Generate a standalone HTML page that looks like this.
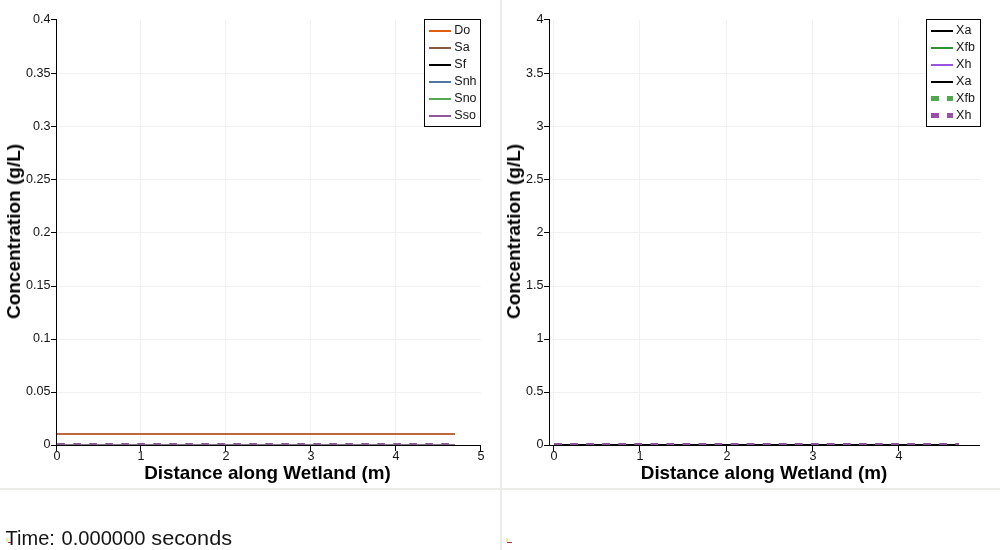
<!DOCTYPE html><html><head><meta charset="utf-8"><title>Wetland plots</title><style>
html,body{margin:0;padding:0;background:#fff;}body{width:1000px;height:550px;overflow:hidden;position:relative;font-family:"Liberation Sans",sans-serif;}
svg{position:absolute;left:0;top:0;display:block}
text{font-family:"Liberation Sans",sans-serif;fill:#141414;}
.t{font-size:13px}.b{font-size:19px;font-weight:bold;fill:#000}.lg{font-size:12.5px}
</style></head><body>
<svg width="1000" height="550" viewBox="0 0 1000 550">
<rect width="1000" height="550" fill="#fff"/>
<g shape-rendering="crispEdges">
<rect x="500" y="0" width="2" height="550" fill="#ebebe8"/>
<rect x="0" y="488" width="1000" height="2" fill="#ebebe8"/>
<rect x="58" y="73" width="423" height="1" fill="#f1f1f1"/>
<rect x="58" y="126" width="423" height="1" fill="#f1f1f1"/>
<rect x="58" y="179" width="423" height="1" fill="#f1f1f1"/>
<rect x="58" y="232" width="423" height="1" fill="#f1f1f1"/>
<rect x="58" y="286" width="423" height="1" fill="#f1f1f1"/>
<rect x="58" y="339" width="423" height="1" fill="#f1f1f1"/>
<rect x="58" y="392" width="423" height="1" fill="#f1f1f1"/>
<rect x="140" y="20" width="1" height="424" fill="#f1f1f1"/>
<rect x="225" y="20" width="1" height="424" fill="#f1f1f1"/>
<rect x="310" y="20" width="1" height="424" fill="#f1f1f1"/>
<rect x="395" y="20" width="1" height="424" fill="#f1f1f1"/>
<rect x="551" y="73" width="430" height="1" fill="#f1f1f1"/>
<rect x="551" y="126" width="430" height="1" fill="#f1f1f1"/>
<rect x="551" y="179" width="430" height="1" fill="#f1f1f1"/>
<rect x="551" y="232" width="430" height="1" fill="#f1f1f1"/>
<rect x="551" y="286" width="430" height="1" fill="#f1f1f1"/>
<rect x="551" y="339" width="430" height="1" fill="#f1f1f1"/>
<rect x="551" y="392" width="430" height="1" fill="#f1f1f1"/>
<rect x="553" y="20" width="1" height="424" fill="#f1f1f1"/>
<rect x="639" y="20" width="1" height="424" fill="#f1f1f1"/>
<rect x="726" y="20" width="1" height="424" fill="#f1f1f1"/>
<rect x="812" y="20" width="1" height="424" fill="#f1f1f1"/>
<rect x="898" y="20" width="1" height="424" fill="#f1f1f1"/>
<rect x="57" y="433" width="398" height="2" fill="#c0673c"/>
<rect x="57" y="444.45" width="398" height="1.55" fill="#240d2c" shape-rendering="auto"/>
<rect x="554" y="444" width="405" height="2" fill="#000"/>
<rect x="56" y="19" width="1" height="427" fill="#000"/>
<rect x="56" y="445" width="425" height="1" fill="#000"/>
<rect x="51" y="19" width="5" height="1" fill="#000"/>
<rect x="51" y="73" width="5" height="1" fill="#000"/>
<rect x="51" y="126" width="5" height="1" fill="#000"/>
<rect x="51" y="179" width="5" height="1" fill="#000"/>
<rect x="51" y="232" width="5" height="1" fill="#000"/>
<rect x="51" y="286" width="5" height="1" fill="#000"/>
<rect x="51" y="339" width="5" height="1" fill="#000"/>
<rect x="51" y="392" width="5" height="1" fill="#000"/>
<rect x="51" y="445" width="5" height="1" fill="#000"/>
<rect x="56" y="445" width="1" height="6" fill="#000"/>
<rect x="140" y="445" width="1" height="6" fill="#000"/>
<rect x="225" y="445" width="1" height="6" fill="#000"/>
<rect x="310" y="445" width="1" height="6" fill="#000"/>
<rect x="395" y="445" width="1" height="6" fill="#000"/>
<rect x="480" y="445" width="1" height="6" fill="#000"/>
<rect x="549" y="19" width="1" height="427" fill="#000"/>
<rect x="549" y="445" width="431" height="1" fill="#000"/>
<rect x="544" y="19" width="5" height="1" fill="#000"/>
<rect x="544" y="73" width="5" height="1" fill="#000"/>
<rect x="544" y="126" width="5" height="1" fill="#000"/>
<rect x="544" y="179" width="5" height="1" fill="#000"/>
<rect x="544" y="232" width="5" height="1" fill="#000"/>
<rect x="544" y="286" width="5" height="1" fill="#000"/>
<rect x="544" y="339" width="5" height="1" fill="#000"/>
<rect x="544" y="392" width="5" height="1" fill="#000"/>
<rect x="544" y="445" width="5" height="1" fill="#000"/>
<rect x="553" y="445" width="1" height="6" fill="#000"/>
<rect x="639" y="445" width="1" height="6" fill="#000"/>
<rect x="726" y="445" width="1" height="6" fill="#000"/>
<rect x="812" y="445" width="1" height="6" fill="#000"/>
<rect x="898" y="445" width="1" height="6" fill="#000"/>
</g>
<g>
<rect x="57.2" y="443" width="7.7" height="2" fill="#875a94"/>
<rect x="73.2" y="443" width="7.7" height="2" fill="#875a94"/>
<rect x="89.2" y="443" width="7.7" height="2" fill="#875a94"/>
<rect x="105.2" y="443" width="7.7" height="2" fill="#875a94"/>
<rect x="121.2" y="443" width="7.7" height="2" fill="#875a94"/>
<rect x="137.2" y="443" width="7.7" height="2" fill="#875a94"/>
<rect x="153.2" y="443" width="7.7" height="2" fill="#875a94"/>
<rect x="169.2" y="443" width="7.7" height="2" fill="#875a94"/>
<rect x="185.2" y="443" width="7.7" height="2" fill="#875a94"/>
<rect x="201.2" y="443" width="7.7" height="2" fill="#875a94"/>
<rect x="217.2" y="443" width="7.7" height="2" fill="#875a94"/>
<rect x="233.2" y="443" width="7.7" height="2" fill="#875a94"/>
<rect x="249.2" y="443" width="7.7" height="2" fill="#875a94"/>
<rect x="265.2" y="443" width="7.7" height="2" fill="#875a94"/>
<rect x="281.2" y="443" width="7.7" height="2" fill="#875a94"/>
<rect x="297.2" y="443" width="7.7" height="2" fill="#875a94"/>
<rect x="313.2" y="443" width="7.7" height="2" fill="#875a94"/>
<rect x="329.2" y="443" width="7.7" height="2" fill="#875a94"/>
<rect x="345.2" y="443" width="7.7" height="2" fill="#875a94"/>
<rect x="361.2" y="443" width="7.7" height="2" fill="#875a94"/>
<rect x="377.2" y="443" width="7.7" height="2" fill="#875a94"/>
<rect x="393.2" y="443" width="7.7" height="2" fill="#875a94"/>
<rect x="409.2" y="443" width="7.7" height="2" fill="#875a94"/>
<rect x="425.2" y="443" width="7.7" height="2" fill="#875a94"/>
<rect x="441.2" y="443" width="7.7" height="2" fill="#875a94"/>
<rect x="554.1" y="443" width="7.8" height="2" fill="#8a4f96"/>
<rect x="570.1" y="443" width="7.8" height="2" fill="#8a4f96"/>
<rect x="586.2" y="443" width="7.8" height="2" fill="#8a4f96"/>
<rect x="602.2" y="443" width="7.8" height="2" fill="#8a4f96"/>
<rect x="618.3" y="443" width="7.8" height="2" fill="#8a4f96"/>
<rect x="634.3" y="443" width="7.8" height="2" fill="#8a4f96"/>
<rect x="650.4" y="443" width="7.8" height="2" fill="#8a4f96"/>
<rect x="666.4" y="443" width="7.8" height="2" fill="#8a4f96"/>
<rect x="682.5" y="443" width="7.8" height="2" fill="#8a4f96"/>
<rect x="698.5" y="443" width="7.8" height="2" fill="#8a4f96"/>
<rect x="714.5" y="443" width="7.8" height="2" fill="#8a4f96"/>
<rect x="730.6" y="443" width="7.8" height="2" fill="#8a4f96"/>
<rect x="746.6" y="443" width="7.8" height="2" fill="#8a4f96"/>
<rect x="762.7" y="443" width="7.8" height="2" fill="#8a4f96"/>
<rect x="778.7" y="443" width="7.8" height="2" fill="#8a4f96"/>
<rect x="794.8" y="443" width="7.8" height="2" fill="#8a4f96"/>
<rect x="810.8" y="443" width="7.8" height="2" fill="#8a4f96"/>
<rect x="826.8" y="443" width="7.8" height="2" fill="#8a4f96"/>
<rect x="842.9" y="443" width="7.8" height="2" fill="#8a4f96"/>
<rect x="858.9" y="443" width="7.8" height="2" fill="#8a4f96"/>
<rect x="875.0" y="443" width="7.8" height="2" fill="#8a4f96"/>
<rect x="891.0" y="443" width="7.8" height="2" fill="#8a4f96"/>
<rect x="907.1" y="443" width="7.8" height="2" fill="#8a4f96"/>
<rect x="923.1" y="443" width="7.8" height="2" fill="#8a4f96"/>
<rect x="939.2" y="443" width="7.8" height="2" fill="#8a4f96"/>
<rect x="955.2" y="443" width="3.8" height="2" fill="#8a4f96"/>
</g>
<g shape-rendering="crispEdges">
<rect x="424.5" y="19.5" width="56" height="107" fill="#fff" stroke="#000" stroke-width="1"/>
<rect x="429" y="30" width="22" height="2" fill="#df5d0f"/>
<rect x="429" y="47" width="22" height="2" fill="#8c5a44"/>
<rect x="429" y="64" width="22" height="2" fill="#000"/>
<rect x="429" y="81" width="22" height="2" fill="#4e78a2"/>
<rect x="429" y="98" width="22" height="2" fill="#55a852"/>
<rect x="429" y="115" width="22" height="2" fill="#8f5699"/>
<rect x="926.5" y="19.5" width="54" height="107" fill="#fff" stroke="#000" stroke-width="1"/>
<rect x="931" y="30" width="22" height="2" fill="#000"/>
<rect x="931" y="47" width="22" height="2" fill="#329032"/>
<rect x="931" y="64" width="22" height="2" fill="#9a55e0"/>
<rect x="931" y="81" width="22" height="2" fill="#000"/>
<rect x="931" y="96" width="8" height="5" fill="#4dab4d"/>
<rect x="947" y="96" width="6" height="5" fill="#4dab4d"/>
<rect x="931" y="113" width="8" height="5" fill="#9a4eaa"/>
<rect x="947" y="113" width="6" height="5" fill="#9a4eaa"/>
<rect x="506" y="538" width="2" height="4" fill="#f5ee96"/>
<rect x="507" y="542" width="5" height="1" fill="#b22a3a"/>
<rect x="6" y="538" width="2" height="4" fill="#f5ee96"/>
<rect x="8" y="542" width="4" height="1" fill="#b22a3a"/>
</g>
<g style="opacity:0.999">
<text class="lg" x="454.3" y="33.9">Do</text>
<text class="lg" x="454.3" y="50.9">Sa</text>
<text class="lg" x="454.3" y="67.9">Sf</text>
<text class="lg" x="454.3" y="84.9">Snh</text>
<text class="lg" x="454.3" y="101.9">Sno</text>
<text class="lg" x="454.3" y="118.9">Sso</text>
<text class="lg" x="956.1" y="33.9">Xa</text>
<text class="lg" x="956.1" y="50.9">Xfb</text>
<text class="lg" x="956.1" y="67.9">Xh</text>
<text class="lg" x="956.1" y="84.9">Xa</text>
<text class="lg" x="956.1" y="101.9">Xfb</text>
<text class="lg" x="956.1" y="118.9">Xh</text>
<text class="t" text-anchor="end" transform="translate(50.5,23.1) scale(0.97,1)">0.4</text>
<text class="t" text-anchor="end" transform="translate(543.5,23.1) scale(0.97,1)">4</text>
<text class="t" text-anchor="end" transform="translate(50.5,77.1) scale(0.97,1)">0.35</text>
<text class="t" text-anchor="end" transform="translate(543.5,77.1) scale(0.97,1)">3.5</text>
<text class="t" text-anchor="end" transform="translate(50.5,130.1) scale(0.97,1)">0.3</text>
<text class="t" text-anchor="end" transform="translate(543.5,130.1) scale(0.97,1)">3</text>
<text class="t" text-anchor="end" transform="translate(50.5,183.3) scale(0.97,1)">0.25</text>
<text class="t" text-anchor="end" transform="translate(543.5,183.3) scale(0.97,1)">2.5</text>
<text class="t" text-anchor="end" transform="translate(50.5,236.1) scale(0.97,1)">0.2</text>
<text class="t" text-anchor="end" transform="translate(543.5,236.1) scale(0.97,1)">2</text>
<text class="t" text-anchor="end" transform="translate(50.5,289.1) scale(0.97,1)">0.15</text>
<text class="t" text-anchor="end" transform="translate(543.5,289.1) scale(0.97,1)">1.5</text>
<text class="t" text-anchor="end" transform="translate(50.5,342.1) scale(0.97,1)">0.1</text>
<text class="t" text-anchor="end" transform="translate(543.5,342.1) scale(0.97,1)">1</text>
<text class="t" text-anchor="end" transform="translate(50.5,395.1) scale(0.97,1)">0.05</text>
<text class="t" text-anchor="end" transform="translate(543.5,395.1) scale(0.97,1)">0.5</text>
<text class="t" text-anchor="end" transform="translate(50.5,448.1) scale(0.97,1)">0</text>
<text class="t" text-anchor="end" transform="translate(543.5,448.1) scale(0.97,1)">0</text>
<text class="t" text-anchor="middle" transform="translate(57.0,460.2) scale(0.97,1)">0</text>
<text class="t" text-anchor="middle" transform="translate(141.0,460.2) scale(0.97,1)">1</text>
<text class="t" text-anchor="middle" transform="translate(226.0,460.2) scale(0.97,1)">2</text>
<text class="t" text-anchor="middle" transform="translate(311.0,460.2) scale(0.97,1)">3</text>
<text class="t" text-anchor="middle" transform="translate(396.0,460.2) scale(0.97,1)">4</text>
<text class="t" text-anchor="middle" transform="translate(481.0,460.2) scale(0.97,1)">5</text>
<text class="t" text-anchor="middle" transform="translate(554.0,460.2) scale(0.97,1)">0</text>
<text class="t" text-anchor="middle" transform="translate(640.0,460.2) scale(0.97,1)">1</text>
<text class="t" text-anchor="middle" transform="translate(727.0,460.2) scale(0.97,1)">2</text>
<text class="t" text-anchor="middle" transform="translate(813.0,460.2) scale(0.97,1)">3</text>
<text class="t" text-anchor="middle" transform="translate(899.0,460.2) scale(0.97,1)">4</text>
<text class="b" x="144.2" y="478.8" textLength="246.5" lengthAdjust="spacingAndGlyphs">Distance along Wetland (m)</text>
<text class="b" x="640.8" y="478.8" textLength="246.5" lengthAdjust="spacingAndGlyphs">Distance along Wetland (m)</text>
<text class="b" text-anchor="middle" transform="translate(20,231.5) rotate(-90)">Concentration (g/L)</text>
<text class="b" text-anchor="middle" transform="translate(520,231.5) rotate(-90)">Concentration (g/L)</text>
<text x="5.6" y="544.5" style="font-size:21px" textLength="49.3" lengthAdjust="spacingAndGlyphs">Time:</text>
<text x="61.6" y="544.5" style="font-size:21px" textLength="83.8" lengthAdjust="spacingAndGlyphs">0.000000</text>
<text x="151.3" y="544.5" style="font-size:21px" textLength="80.8" lengthAdjust="spacingAndGlyphs">seconds</text>
</g>
</svg></body></html>
